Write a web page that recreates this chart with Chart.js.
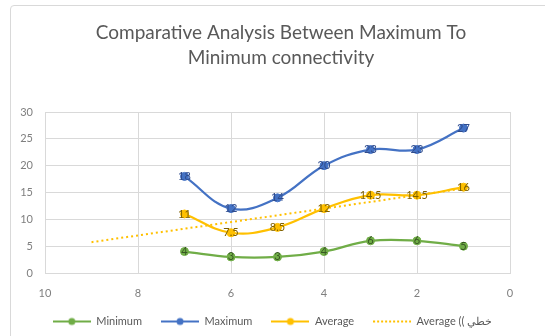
<!DOCTYPE html>
<html>
<head>
<meta charset="utf-8">
<script src="https://cdn.jsdelivr.net/npm/chart.js"></script>
<style>
  html, body { margin: 0; padding: 0; background: #ffffff; }
  #wrap { position: relative; width: 545px; height: 336px; overflow: hidden; }
  #frame { position: absolute; left: 10px; top: 5px; width: 560px; height: 360px;
           border: 1px solid #d9d9d9; border-radius: 4px; pointer-events: none; }
  canvas { position: absolute; left: 0; top: 0; }
</style>
</head>
<body>
<div id="wrap">
  <div id="frame"></div>
  <canvas id="chart" width="545" height="336"></canvas>
</div>
<script>
// Chart values
const xValues = [7, 6, 5, 4, 3, 2, 1];
const minimumValues = [4, 3, 3, 4, 6, 6, 5];
const maximumValues = [18, 12, 14, 20, 23, 23, 27];
const averageValues = [11, 7.5, 8.5, 12, 14.5, 14.5, 16];
const trendX = [9, 1];
const trendValues = [5.75, 15.75];
const xTicks = [0, 2, 4, 6, 8, 10];
const yTicks = [0, 5, 10, 15, 20, 25, 30];
const titleLines = ['Comparative Analysis Between Maximum To', 'Minimum connectivity'];
const seriesNames = ['Minimum', 'Maximum', 'Average', 'Average (( خطي'];

const FONT = 'Lato, "Open Sans", sans-serif';

function toPoints(xs, ys) {
    return xs.map((x, i) => ({ x: x, y: ys[i] }));
}

// Small line + marker sample used in the legend
function legendSwatch(color, withMarker, dashed) {
    const c = document.createElement('canvas');
    c.width = 38;
    c.height = 10;
    const g = c.getContext('2d');
    g.strokeStyle = color;
    g.lineWidth = 2;
    if (dashed) g.setLineDash([2, 2]);
    g.beginPath();
    g.moveTo(0, 5);
    g.lineTo(38, 5);
    g.stroke();
    if (withMarker) {
        g.setLineDash([]);
        g.fillStyle = color;
        g.beginPath();
        g.arc(19, 5, 3.5, 0, Math.PI * 2);
        g.fill();
    }
    return c;
}

// Title drawn centred over the Excel chart box
const titlePlugin = {
    id: 'titleText',
    afterDraw(chart) {
        const ctx = chart.ctx;
        ctx.save();
        ctx.font = '19px ' + FONT;
        ctx.fillStyle = '#595959';
        ctx.textAlign = 'center';
        ctx.textBaseline = 'middle';
        titleLines.forEach((line, i) => ctx.fillText(line, 281, 33 + i * 25));
        ctx.restore();
    }
};

// Value labels centred on each marker
const labelColors = ['#385723', '#2F4B8C', '#7F6000'];
const valueLabelPlugin = {
    id: 'valueLabels',
    afterDatasetsDraw(chart) {
        const ctx = chart.ctx;
        ctx.save();
        ctx.font = '11px ' + FONT;
        ctx.textAlign = 'center';
        ctx.textBaseline = 'middle';
        [0, 1, 2].forEach(di => {
            const meta = chart.getDatasetMeta(di);
            ctx.fillStyle = labelColors[di];
            meta.data.forEach((pt, i) => {
                const v = chart.data.datasets[di].data[i].y;
                ctx.fillText(String(v), pt.x, pt.y);
            });
        });
        ctx.restore();
    }
};

const seriesColors = ['#70AD47', '#4472C4', '#FFC000', '#FFC000'];

function lineDataset(label, ys, color) {
    return {
        label: label,
        data: toPoints(xValues, ys),
        borderColor: color,
        backgroundColor: color,
        borderWidth: 2.25,
        pointRadius: 4,
        pointBorderWidth: 1,
        pointBackgroundColor: color,
        pointBorderColor: color,
        tension: 0.4,
        fill: false
    };
}

const ctx = document.getElementById('chart').getContext('2d');
new Chart(ctx, {
    type: 'line',
    data: {
        datasets: [
            lineDataset(seriesNames[0], minimumValues, seriesColors[0]),
            lineDataset(seriesNames[1], maximumValues, seriesColors[1]),
            lineDataset(seriesNames[2], averageValues, seriesColors[2]),
            {
                label: seriesNames[3],
                data: toPoints(trendX, trendValues),
                borderColor: seriesColors[3],
                borderWidth: 2,
                borderDash: [2, 3],
                pointRadius: 0,
                tension: 0,
                fill: false
            }
        ]
    },
    options: {
        responsive: false,
        animation: false,
        devicePixelRatio: 1,
        layout: {
            padding: { top: 112, left: 0, right: 0, bottom: -1 }
        },
        plugins: {
            title: { display: false },
            tooltip: { enabled: false },
            legend: {
                position: 'bottom',
                labels: {
                    usePointStyle: true,
                    pointStyleWidth: 38,
                    padding: 19,
                    color: '#595959',
                    font: { family: FONT, size: 11 },
                    generateLabels: function(chart) {
                        return chart.data.datasets.map((ds, i) => ({
                            text: ds.label,
                            fillStyle: seriesColors[i],
                            strokeStyle: seriesColors[i],
                            lineWidth: 0,
                            pointStyle: legendSwatch(seriesColors[i], i < 3, i === 3),
                            hidden: false,
                            datasetIndex: i,
                            fontColor: '#595959'
                        }));
                    }
                }
            }
        },
        scales: {
            x: {
                type: 'linear',
                min: 0,
                max: 10,
                reverse: true,
                afterBuildTicks: s => { s.ticks = xTicks.map(v => ({ value: v })); },
                afterFit: s => { s.height = 24; },
                grid: { color: '#d9d9d9', drawTicks: false },
                border: { color: '#d9d9d9' },
                ticks: { padding: 14, color: '#7f7f7f', font: { family: FONT, size: 11 } }
            },
            y: {
                type: 'linear',
                min: 0,
                max: 30,
                afterBuildTicks: s => { s.ticks = yTicks.map(v => ({ value: v })); },
                afterFit: s => { s.width = 45; },
                grid: { color: '#d9d9d9', drawTicks: false },
                border: { color: '#d9d9d9' },
                ticks: { padding: 12, color: '#7f7f7f', font: { family: FONT, size: 11 } }
            },
            yRight: {
                type: 'linear',
                position: 'right',
                min: 0,
                max: 30,
                afterFit: s => { s.width = 35; },
                grid: { display: false },
                border: { display: false },
                ticks: { display: false }
            }
        }
    },
    plugins: [titlePlugin, valueLabelPlugin]
});
</script>
</body>
</html>
